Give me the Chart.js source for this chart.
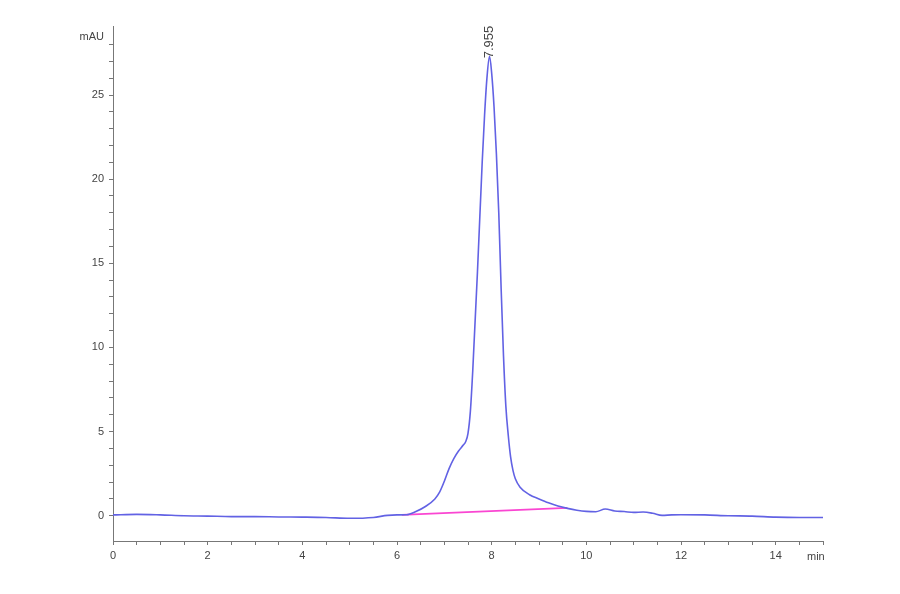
<!DOCTYPE html>
<html>
<head>
<meta charset="utf-8">
<script src="https://cdn.jsdelivr.net/npm/chart.js@4"></script>
<style>
  html, body { margin: 0; padding: 0; background: #fff; }
  #wrap { width: 900px; height: 594px; }
</style>
</head>
<body>
<div id="wrap"><canvas id="hplc"></canvas></div>
<script>
// ===== DATA =====
const times = [0, 0.5, 1, 1.5, 2, 2.5, 3, 3.5, 4, 4.5, 5, 5.5, 5.8, 6.0, 6.2, 6.4, 6.6, 6.8, 6.9, 7.0,
  7.1, 7.2, 7.3, 7.4, 7.45, 7.5, 7.55, 7.6, 7.7, 7.8, 7.85, 7.9, 7.955, 8.0, 8.05, 8.1, 8.15, 8.2, 8.25, 8.3, 8.35, 8.4,
  8.45, 8.5, 8.6, 8.8, 9.0, 9.2, 9.4, 9.6, 9.8, 10.0, 10.2, 10.4, 10.6, 10.8, 11.0, 11.2, 11.4, 11.6, 11.8, 12,
  12.5, 13, 13.5, 14, 14.5, 15];
const signal = [0.05, 0.08, 0.05, 0.0, -0.02, -0.05, -0.05, -0.07, -0.08, -0.1, -0.15, -0.1, 0.02, 0.05, 0.06, 0.25, 0.55, 1.0, 1.4, 2.05,
  2.8, 3.4, 3.85, 4.2, 4.4, 4.9, 6.2, 8.6, 14.5, 21.0, 23.8, 26.0, 27.3, 26.3, 24.3, 21.5, 18.0, 13.5, 9.5, 6.5, 4.8, 3.5,
  2.7, 2.2, 1.7, 1.25, 1.0, 0.77, 0.58, 0.44, 0.33, 0.26, 0.24, 0.4, 0.28, 0.25, 0.2, 0.22, 0.15, 0.02, 0.05, 0.06,
  0.05, 0.0, -0.02, -0.08, -0.1, -0.1];
const baseTimes = [6.1, 9.6];
const baseSignal = [0.05, 0.47];
const peakTime = 7.955;
const peakHeight = 27.3;
const peakLabel = '7.955';
const xLabelTicks = [0, 2, 4, 6, 8, 10, 12, 14];
const yLabelTicks = [0, 5, 10, 15, 20, 25];

const FONT = '"Liberation Sans", Arial, sans-serif';
const TEXT = '#444';
const AXIS = '#777';

// ===== EXTRA TEXT (units + peak label) =====
const annotate = {
  id: 'annotate',
  afterDatasetsDraw(chart) {
    const { ctx, scales: { x, y }, chartArea } = chart;
    ctx.save();
    ctx.fillStyle = TEXT;
    ctx.font = '11px ' + FONT;
    ctx.textAlign = 'right';
    ctx.textBaseline = 'middle';
    ctx.fillText('mAU', chartArea.left - 9, chartArea.top + 11);
    ctx.textAlign = 'left';
    ctx.fillText('min', chartArea.right - 16, chartArea.bottom + 16);
    // retention time label, rotated
    ctx.font = '13px ' + FONT;
    ctx.translate(x.getPixelForValue(peakTime), y.getPixelForValue(peakHeight) + 2);
    ctx.rotate(-Math.PI / 2);
    ctx.textAlign = 'left';
    ctx.fillText(peakLabel, 0, 0);
    ctx.restore();
  }
};

new Chart(document.getElementById('hplc'), {
  type: 'line',
  data: {
    datasets: [
      {
        label: 'signal',
        data: times.map((t, i) => ({ x: t, y: signal[i] })),
        borderColor: 'rgb(98,98,228)',
        borderWidth: 1.6,
        pointRadius: 0,
        cubicInterpolationMode: 'monotone'
      },
      {
        label: 'baseline',
        data: baseTimes.map((t, i) => ({ x: t, y: baseSignal[i] })),
        borderColor: 'rgb(250,70,210)',
        borderWidth: 1.6,
        pointRadius: 0
      }
    ]
  },
  plugins: [annotate],
  options: {
    responsive: true,
    maintainAspectRatio: false,
    animation: false,
    layout: { padding: { left: 0, right: 77, top: 26, bottom: 0 } },
    plugins: { legend: { display: false }, tooltip: { enabled: false } },
    scales: {
      x: {
        type: 'linear',
        min: 0, max: 15,
        afterFit(scale) { scale.height = 53; },
        border: { color: AXIS, width: 1 },
        grid: { drawOnChartArea: false, tickLength: 4, tickColor: AXIS },
        ticks: {
          stepSize: 0.5, autoSkip: false, maxRotation: 0, padding: 4,
          color: TEXT, font: { family: FONT, size: 11 },
          callback: v => xLabelTicks.includes(v) ? String(v) : ''
        }
      },
      y: {
        type: 'linear',
        min: -1.5, max: 29.1,
        afterFit(scale) { scale.width = 113; },
        afterBuildTicks(scale) { scale.ticks = scale.ticks.filter(t => Number.isInteger(t.value)); },
        border: { color: AXIS, width: 1 },
        grid: { drawOnChartArea: false, tickLength: 4, tickColor: AXIS },
        ticks: {
          stepSize: 1, autoSkip: false, padding: 5,
          color: TEXT, font: { family: FONT, size: 11 },
          callback: v => yLabelTicks.includes(v) ? String(v) : ''
        }
      }
    }
  }
});
</script>
</body>
</html>
